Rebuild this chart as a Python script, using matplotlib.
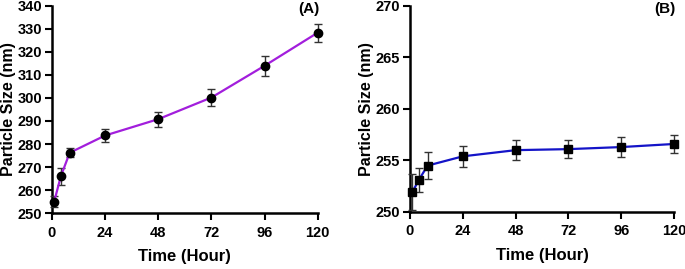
import matplotlib
matplotlib.use("Agg")
import matplotlib.pyplot as plt

time_h = [1, 4, 8, 24, 48, 72, 96, 120]
size_a = [255.0, 266.0, 276.2, 283.7, 290.8, 300.2, 314.0, 328.4]
err_a = [2.5, 3.7, 2.0, 2.9, 3.3, 3.7, 4.3, 3.9]
size_b = [251.9, 253.1, 254.5, 255.4, 256.0, 256.1, 256.3, 256.6]
err_b = [1.75, 1.2, 1.3, 1.0, 1.0, 0.9, 0.95, 0.85]
xticks = [0, 24, 48, 72, 96, 120]
yticks_a = list(range(250, 341, 10))
yticks_b = list(range(250, 271, 5))

plt.rcParams['font.family'] = ['Liberation Sans', 'DejaVu Sans']
plt.rcParams['font.weight'] = 'bold'

fig = plt.figure(figsize=(6.85, 2.69), dpi=100)
axA = fig.add_axes([0.0759, 0.208, 0.388, 0.770])
axB = fig.add_axes([0.5985, 0.212, 0.3855, 0.766])

def style(ax, yticks, ylim):
    ax.set_xlim(0, 120)
    ax.set_ylim(*ylim)
    ax.set_xticks(xticks)
    ax.set_yticks(yticks)
    for s in ['top', 'right']:
        ax.spines[s].set_visible(False)
    for s in ['left', 'bottom']:
        ax.spines[s].set_linewidth(1.8)
    ax.tick_params(axis='both', width=1.5, length=5, labelsize=10.5)
    ax.tick_params(axis='x', pad=4)
    ax.tick_params(axis='y', pad=2)
    for lab in ax.get_xticklabels() + ax.get_yticklabels():
        lab.set_fontweight('bold')
    ax.set_xlabel('Time (Hour)', fontsize=12, fontweight='bold', labelpad=7)
    ax.set_ylabel('Particle Size (nm)', fontsize=11.5, fontweight='bold', labelpad=1)

axA.errorbar(time_h, size_a, yerr=err_a, color='#A21EDC', lw=1.6, marker='o',
             ms=6, mfc='black', mec='black', ecolor='#333333', elinewidth=1.0,
             capsize=2.8, capthick=1.0, clip_on=False, zorder=3)
style(axA, yticks_a, (250, 340))
axA.text(0.965, 0.985, '(A)', transform=axA.transAxes, ha='center', va='center',
         fontsize=11, fontweight='bold')

axB.errorbar(time_h, size_b, yerr=err_b, color='#1414C8', lw=1.6, marker='s',
             ms=6, mfc='black', mec='black', ecolor='#333333', elinewidth=1.0,
             capsize=2.8, capthick=1.0, clip_on=False, zorder=3)
style(axB, yticks_b, (250, 270))
axB.text(0.965, 0.985, '(B)', transform=axB.transAxes, ha='center', va='center',
         fontsize=11, fontweight='bold')

fig.savefig('out.png', dpi=100)
